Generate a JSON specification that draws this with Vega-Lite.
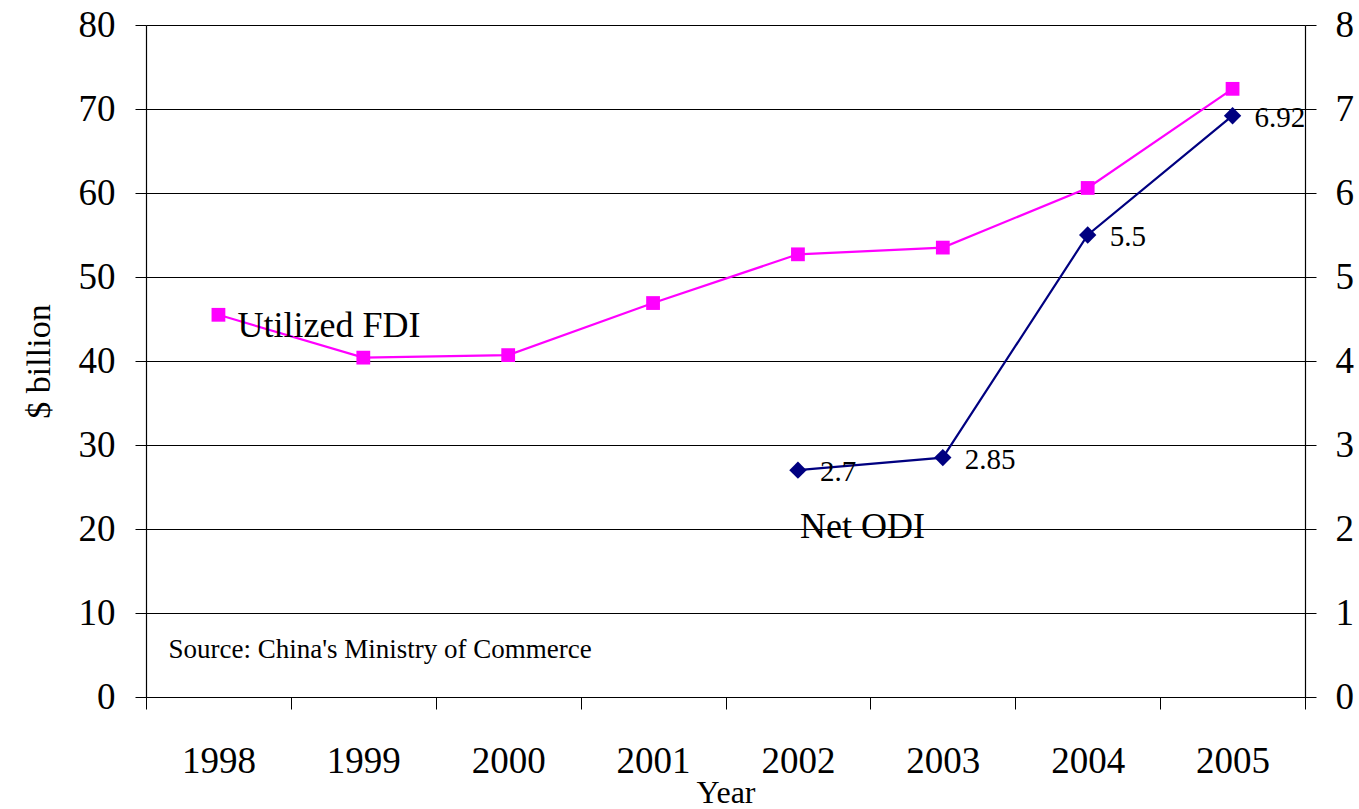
{
  "$schema": "https://vega.github.io/schema/vega-lite/v6.json",
  "width": 1159,
  "height": 672,
  "autosize": {"type": "none"},
  "padding": {"left": 146, "top": 25, "right": 54, "bottom": 112},
  "background": "white",
  "config": {
    "view": {"stroke": null},
    "font": "Liberation Serif",
    "axis": {"labelFont": "Liberation Serif", "titleFont": "Liberation Serif", "titleFontWeight": "normal", "domainColor": "black", "tickColor": "black", "labelColor": "black", "titleColor": "black", "labelOverlap": false}
  },
  "datasets": {
    "fdi": [
      {"year": "1998", "value": 45.5},
      {"year": "1999", "value": 40.4},
      {"year": "2000", "value": 40.7},
      {"year": "2001", "value": 46.9},
      {"year": "2002", "value": 52.7},
      {"year": "2003", "value": 53.5},
      {"year": "2004", "value": 60.6},
      {"year": "2005", "value": 72.4}
    ],
    "odi": [
      {"year": "2002", "value": 2.7, "label": "2.7"},
      {"year": "2003", "value": 2.85, "label": "2.85"},
      {"year": "2004", "value": 5.5, "label": "5.5"},
      {"year": "2005", "value": 6.92, "label": "6.92"}
    ],
    "seriesLeft": [
      {"year": "1998", "value": 44.2, "text": "Utilized FDI"}
    ],
    "source": [
      {"year": "1998", "value": 5.6, "text": "Source: China's Ministry of Commerce"}
    ],
    "seriesRight": [
      {"year": "2002", "value": 2.02, "text": "Net ODI"}
    ]
  },
  "layer": [
    {
      "layer": [
        {
          "data": {"name": "fdi"},
          "mark": {"type": "line", "color": "#FF00FF", "strokeWidth": 2.2},
          "encoding": {
            "x": {
              "field": "year", "type": "ordinal",
              "scale": {"paddingInner": 0, "paddingOuter": 0},
              "axis": {"title": "Year", "titleFontSize": 32, "titlePadding": -2, "labelFontSize": 37, "labelAngle": 0, "labelPadding": 34, "tickBand": "extent", "tickSize": 12, "grid": false, "domainColor": "black", "domainWidth": 1.2}
            },
            "y": {
              "field": "value", "type": "quantitative",
              "scale": {"domain": [0, 80], "nice": false},
              "axis": {"title": "$ billion", "titleFontSize": 34, "titlePadding": 22, "labelFontSize": 37, "labelPadding": 20, "tickSize": 11, "values": [0, 10, 20, 30, 40, 50, 60, 70, 80], "format": "d", "grid": true, "gridColor": "black", "gridOpacity": 1, "gridWidth": 1.2, "domainWidth": 1.2}
            }
          }
        },
        {
          "data": {"name": "fdi"},
          "mark": {"type": "point", "shape": "square", "filled": true, "color": "#FF00FF", "opacity": 1, "size": 190},
          "encoding": {
            "x": {"field": "year", "type": "ordinal"},
            "y": {"field": "value", "type": "quantitative"}
          }
        },
        {
          "data": {"name": "seriesLeft"},
          "mark": {"type": "text", "align": "left", "baseline": "middle", "dx": 19, "fontSize": 36, "color": "black"},
          "encoding": {
            "x": {"field": "year", "type": "ordinal"},
            "y": {"field": "value", "type": "quantitative"},
            "text": {"field": "text"}
          }
        },
        {
          "data": {"name": "source"},
          "mark": {"type": "text", "align": "left", "baseline": "middle", "dx": -50, "fontSize": 27, "color": "black"},
          "encoding": {
            "x": {"field": "year", "type": "ordinal"},
            "y": {"field": "value", "type": "quantitative"},
            "text": {"field": "text"}
          }
        }
      ]
    },
    {
      "layer": [
        {
          "data": {"name": "odi"},
          "mark": {"type": "line", "color": "#000080", "strokeWidth": 2.2},
          "encoding": {
            "x": {"field": "year", "type": "ordinal"},
            "y": {
              "field": "value", "type": "quantitative",
              "scale": {"domain": [0, 8], "nice": false},
              "axis": {"title": null, "orient": "right", "labelFontSize": 37, "labelPadding": 19, "tickSize": 11, "values": [0, 1, 2, 3, 4, 5, 6, 7, 8], "format": "d", "grid": false, "domainWidth": 1.2}
            }
          }
        },
        {
          "data": {"name": "odi"},
          "mark": {"type": "point", "shape": "diamond", "filled": true, "color": "#000080", "opacity": 1, "size": 300},
          "encoding": {
            "x": {"field": "year", "type": "ordinal"},
            "y": {"field": "value", "type": "quantitative"}
          }
        },
        {
          "data": {"name": "odi"},
          "mark": {"type": "text", "align": "left", "baseline": "middle", "dx": 22, "dy": 2, "fontSize": 29, "color": "black"},
          "encoding": {
            "x": {"field": "year", "type": "ordinal"},
            "y": {"field": "value", "type": "quantitative"},
            "text": {"field": "label"}
          }
        },
        {
          "data": {"name": "seriesRight"},
          "mark": {"type": "text", "align": "left", "baseline": "middle", "dx": 2, "fontSize": 36, "color": "black"},
          "encoding": {
            "x": {"field": "year", "type": "ordinal"},
            "y": {"field": "value", "type": "quantitative"},
            "text": {"field": "text"}
          }
        }
      ]
    }
  ],
  "resolve": {"scale": {"y": "independent"}}
}
